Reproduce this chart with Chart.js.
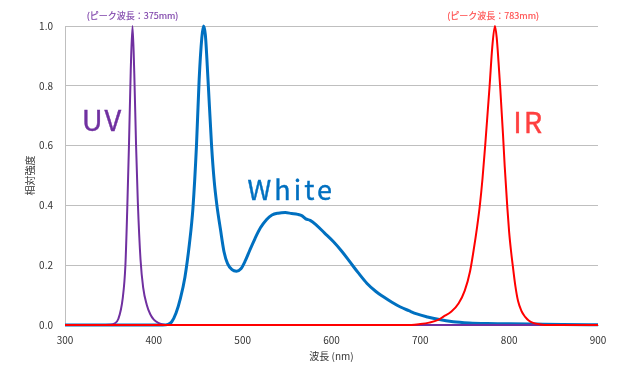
<!DOCTYPE html>
<html>
<head>
<meta charset="utf-8">
<script src="https://cdn.jsdelivr.net/npm/chart.js@4"></script>
<style>
  html, body { margin: 0; padding: 0; background: #fff; }
  #wrap { width: 640px; height: 372px; }
</style>
</head>
<body>
<div id="wrap"><canvas id="spectrumChart" width="640" height="372"></canvas></div>
<script>
// wavelength (nm) / relative intensity
const uvWavelength = [300, 340, 350, 355, 360, 365, 368, 370, 372, 374, 376, 378, 380, 382, 385, 388, 392, 396, 400, 405, 410, 415, 900];
const uvIntensity  = [0, 0, 0.001, 0.004, 0.02, 0.09, 0.2, 0.38, 0.6, 0.85, 1.0, 0.84, 0.6, 0.41, 0.22, 0.125, 0.068, 0.036, 0.018, 0.007, 0.002, 0, 0];

const whiteWavelength = [300, 410, 416, 420, 425, 430, 435, 440, 444, 448, 451, 454, 456, 458, 461, 465, 468, 471, 475, 479, 483, 488, 493, 498, 503, 508, 514, 520, 527, 533, 540, 548, 555, 562, 567, 571, 576, 583, 592, 602, 612, 621, 630, 640, 650, 658, 668, 677, 687, 696, 708, 720, 737, 755, 775, 800, 830, 860, 900];
const whiteIntensity  = [0, 0, 0.002, 0.01, 0.04, 0.09, 0.16, 0.27, 0.39, 0.6, 0.82, 0.96, 1.0, 0.97, 0.82, 0.6, 0.48, 0.4, 0.32, 0.245, 0.205, 0.185, 0.18, 0.188, 0.215, 0.25, 0.29, 0.325, 0.353, 0.368, 0.374, 0.376, 0.373, 0.37, 0.365, 0.355, 0.35, 0.334, 0.308, 0.279, 0.245, 0.21, 0.175, 0.139, 0.112, 0.095, 0.076, 0.061, 0.048, 0.037, 0.027, 0.019, 0.011, 0.007, 0.005, 0.004, 0.003, 0.002, 0.001];

const irWavelength = [300, 690, 700, 710, 720, 726, 735, 743, 750, 756, 760, 764, 767, 770, 773, 776, 778, 781, 784, 786, 788, 790, 793, 795, 798, 800, 802, 804, 807, 810, 814, 818, 822, 827, 835, 845, 900];
const irIntensity  = [0, 0, 0.003, 0.008, 0.017, 0.028, 0.045, 0.072, 0.115, 0.18, 0.25, 0.33, 0.4, 0.49, 0.6, 0.72, 0.8, 0.93, 1.0, 0.96, 0.88, 0.79, 0.64, 0.53, 0.39, 0.31, 0.25, 0.2, 0.13, 0.08, 0.046, 0.027, 0.015, 0.007, 0.002, 0, 0];

const xTicks = [300, 400, 500, 600, 700, 800, 900];
const yTicks = [0, 0.2, 0.4, 0.6, 0.8, 1.0];

// text labels placed in data units
const labelTexts   = ['(ピーク波長：375mm)', '(ピーク波長：783mm)', 'UV', 'White', 'IR'];
const labelX       = [376, 782, 341, 553, 821];
const labelY       = [1.034, 1.034, 0.687, 0.452, 0.68];
const labelSizes   = [9, 9, 29, 27, 29];
const labelSpacing = [0, 0, 2, 3, 2];
const labelColors  = ['#7b3fa8', '#ff4b4b', '#7030a0', '#0070c0', '#ff4040'];

const FONT = "'Noto Sans CJK JP', 'Noto Sans', sans-serif";

function toPoints(xs, ys) {
    return xs.map((x, i) => ({ x: x, y: ys[i] }));
}

const labelPlugin = {
    id: 'curveLabels',
    afterDatasetsDraw(chart) {
        const ctx = chart.ctx;
        const xs = chart.scales.x;
        const ys = chart.scales.y;
        ctx.save();
        ctx.textAlign = 'center';
        ctx.textBaseline = 'middle';
        labelTexts.forEach((t, i) => {
            ctx.font = labelSizes[i] + 'px ' + FONT;
            ctx.letterSpacing = labelSpacing[i] + 'px';
            ctx.fillStyle = labelColors[i];
            ctx.strokeStyle = labelColors[i];
            ctx.lineWidth = labelSizes[i] > 12 ? 0.4 : 0.15;
            const px = xs.getPixelForValue(labelX[i]) + labelSpacing[i] / 2;
            const py = ys.getPixelForValue(labelY[i]);
            ctx.fillText(t, px, py);
            ctx.strokeText(t, px, py);
        });
        ctx.restore();
    }
};

function initializeSpectrumChart() {
    const ctx = document.getElementById('spectrumChart');
    if (!ctx) {
        console.warn('Spectrum chart canvas element is missing!');
        return;
    }
    new Chart(ctx.getContext('2d'), {
        type: 'line',
        data: {
            datasets: [
                {
                    label: 'White',
                    data: toPoints(whiteWavelength, whiteIntensity),
                    borderColor: '#0070c0',
                    borderWidth: 3,
                    order: 3
                },
                {
                    label: 'UV',
                    data: toPoints(uvWavelength, uvIntensity),
                    borderColor: '#7030a0',
                    borderWidth: 2,
                    order: 2
                },
                {
                    label: 'IR',
                    data: toPoints(irWavelength, irIntensity),
                    borderColor: '#ff0000',
                    borderWidth: 2,
                    order: 1
                }
            ]
        },
        options: {
            responsive: false,
            animation: false,
            layout: { padding: { left: 20, right: 42, top: 26, bottom: 6 } },
            elements: {
                point: { radius: 0 },
                line: { cubicInterpolationMode: 'monotone', fill: false, borderJoinStyle: 'round' }
            },
            datasets: { line: { clip: 4 } },
            plugins: {
                legend: { display: false },
                tooltip: { enabled: false }
            },
            scales: {
                x: {
                    type: 'linear',
                    min: 300,
                    max: 900,
                    afterFit: (s) => { s.height = 41; },
                    afterBuildTicks: (s) => { s.ticks = xTicks.map(v => ({ value: v })); },
                    grid: { display: false, drawTicks: false },
                    border: { display: true, color: '#bfbfbf' },
                    ticks: {
                        padding: 9,
                        color: '#333',
                        font: { family: FONT, size: 10 }
                    },
                    title: {
                        display: true,
                        text: '波長 (nm)',
                        color: '#333',
                        padding: 4,
                        font: { family: FONT, size: 10 }
                    }
                },
                y: {
                    min: 0,
                    max: 1,
                    afterFit: (s) => { s.width = 45; },
                    afterBuildTicks: (s) => { s.ticks = yTicks.map(v => ({ value: v })); },
                    grid: { color: '#bfbfbf', lineWidth: 1, drawTicks: false },
                    border: { display: true, color: '#bfbfbf' },
                    ticks: {
                        padding: 12,
                        color: '#333',
                        font: { family: FONT, size: 10 },
                        callback: (v) => Number(v).toFixed(1)
                    },
                    title: {
                        display: true,
                        text: '相対強度',
                        color: '#333',
                        padding: 4,
                        font: { family: FONT, size: 10 }
                    }
                }
            }
        },
        plugins: [labelPlugin]
    });
}

initializeSpectrumChart();
</script>
</body>
</html>
